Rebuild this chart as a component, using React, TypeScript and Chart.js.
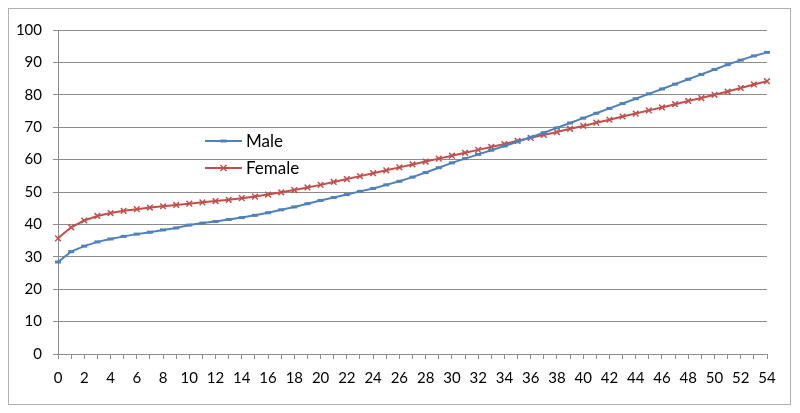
import React, { useEffect, useRef } from "react";
import { Chart, registerables } from "chart.js";

Chart.register(...registerables);

const ages: string[] = Array.from({ length: 55 }, (_, i) => String(i));

const maleValues: number[] = [
  28.4, 31.6, 33.3, 34.6, 35.5, 36.3, 37.0, 37.6, 38.3, 38.9,
  39.8, 40.4, 40.9, 41.5, 42.1, 42.8, 43.6, 44.5, 45.4, 46.4,
  47.4, 48.3, 49.2, 50.2, 51.1, 52.2, 53.3, 54.6, 56.0, 57.5,
  59.0, 60.3, 61.6, 62.9, 64.2, 65.5, 66.9, 68.3, 69.8, 71.3,
  72.8, 74.3, 75.8, 77.3, 78.8, 80.3, 81.8, 83.3, 84.8, 86.3,
  87.8, 89.3, 90.7, 92.0, 93.1,
];

const femaleValues: number[] = [
  35.7, 39.1, 41.2, 42.6, 43.5, 44.2, 44.7, 45.2, 45.6, 46.0,
  46.4, 46.8, 47.2, 47.6, 48.1, 48.6, 49.2, 49.9, 50.6, 51.4,
  52.2, 53.1, 54.0, 54.9, 55.8, 56.7, 57.6, 58.5, 59.4, 60.3,
  61.2, 62.1, 63.0, 63.9, 64.8, 65.8, 66.7, 67.6, 68.5, 69.5,
  70.4, 71.4, 72.3, 73.3, 74.2, 75.2, 76.1, 77.1, 78.1, 79.0,
  80.0, 81.0, 82.1, 83.2, 84.2,
];

const yTicks: number[] = [0, 10, 20, 30, 40, 50, 60, 70, 80, 90, 100];

const BLUE = "#4F81BD";
const RED = "#C0504D";
const GRID = "#8c8c8c";
const FONT = "Lato, 'Liberation Sans', sans-serif";

const frame = {
  id: "frame",
  beforeDraw(chart: any) {
    const ctx = chart.ctx;
    ctx.save();
    ctx.fillStyle = "#ffffff";
    ctx.fillRect(0, 0, chart.width, chart.height);
    ctx.strokeStyle = "#b0b0b0";
    ctx.lineWidth = 1;
    ctx.strokeRect(8.5, 8.5, 782, 396);
    ctx.restore();
  },
};

const innerLegend = {
  id: "innerLegend",
  afterDraw(chart: any) {
    const ctx = chart.ctx;
    const x0 = chart.chartArea.left + 147;
    const ys = [chart.chartArea.top + 111, chart.chartArea.top + 138];
    ctx.save();
    chart.data.datasets.forEach((ds: any, i: number) => {
      const y = ys[i];
      ctx.strokeStyle = ds.borderColor;
      ctx.lineWidth = 2;
      ctx.beginPath();
      ctx.moveTo(x0, y);
      ctx.lineTo(x0 + 37, y);
      ctx.stroke();
      const mx = x0 + 18.5;
      if (i === 0) {
        ctx.lineWidth = 3;
        ctx.beginPath();
        ctx.moveTo(mx - 3, y);
        ctx.lineTo(mx + 3, y);
        ctx.stroke();
      } else {
        ctx.lineWidth = 1.5;
        ctx.beginPath();
        ctx.moveTo(mx - 3, y - 3);
        ctx.lineTo(mx + 3, y + 3);
        ctx.moveTo(mx - 3, y + 3);
        ctx.lineTo(mx + 3, y - 3);
        ctx.stroke();
      }
      ctx.fillStyle = "#000000";
      ctx.font = `17px ${FONT}`;
      ctx.textBaseline = "middle";
      ctx.textAlign = "left";
      ctx.fillText(ds.label, x0 + 41, y + 1);
    });
    ctx.restore();
  },
};

export default function App() {
  const ref = useRef<HTMLCanvasElement | null>(null);

  useEffect(() => {
    document.body.style.margin = "0";
    if (!ref.current) return;
    const chart = new Chart(ref.current, {
      type: "line",
      data: {
        labels: ages,
        datasets: [
          {
            label: "Male",
            data: maleValues,
            borderColor: BLUE,
            backgroundColor: BLUE,
            borderWidth: 2,
            pointStyle: "line",
            pointRadius: 3,
            pointBorderWidth: 3,
            tension: 0,
          },
          {
            label: "Female",
            data: femaleValues,
            borderColor: RED,
            backgroundColor: RED,
            borderWidth: 2,
            pointStyle: "crossRot",
            pointRadius: 4,
            pointBorderWidth: 1.5,
            tension: 0,
          },
        ],
      },
      options: {
        animation: false,
        responsive: false,
        maintainAspectRatio: false,
        layout: { padding: { left: 0, top: 30, right: 33, bottom: 19 } },
        plugins: {
          legend: { display: false },
          tooltip: { enabled: false },
        },
        scales: {
          x: {
            type: "category",
            offset: false,
            afterFit: (s: any) => {
              s.height = 40;
            },
            grid: {
              drawOnChartArea: false,
              drawTicks: true,
              tickLength: 5,
              color: GRID,
            },
            border: { color: GRID, width: 1 },
            ticks: {
              autoSkip: false,
              maxRotation: 0,
              padding: 10,
              color: "#000000",
              font: { family: FONT, size: 15 },
              callback: (_v: any, i: number) => (i % 2 === 0 ? ages[i] : ""),
            },
          },
          y: {
            min: 0,
            max: 100,
            afterFit: (s: any) => {
              s.width = 58;
            },
            afterBuildTicks: (s: any) => {
              s.ticks = yTicks.map((v) => ({ value: v }));
            },
            grid: {
              color: GRID,
              tickLength: 5,
              drawTicks: true,
            },
            border: { color: GRID, width: 1 },
            ticks: {
              padding: 11,
              color: "#000000",
              font: { family: FONT, size: 15 },
            },
          },
        },
      },
      plugins: [frame, innerLegend],
    });
    return () => chart.destroy();
  }, []);

  return (
    <div style={{ width: 800, height: 413 }}>
      <canvas ref={ref} width={800} height={413} style={{ display: "block" }} />
    </div>
  );
}
